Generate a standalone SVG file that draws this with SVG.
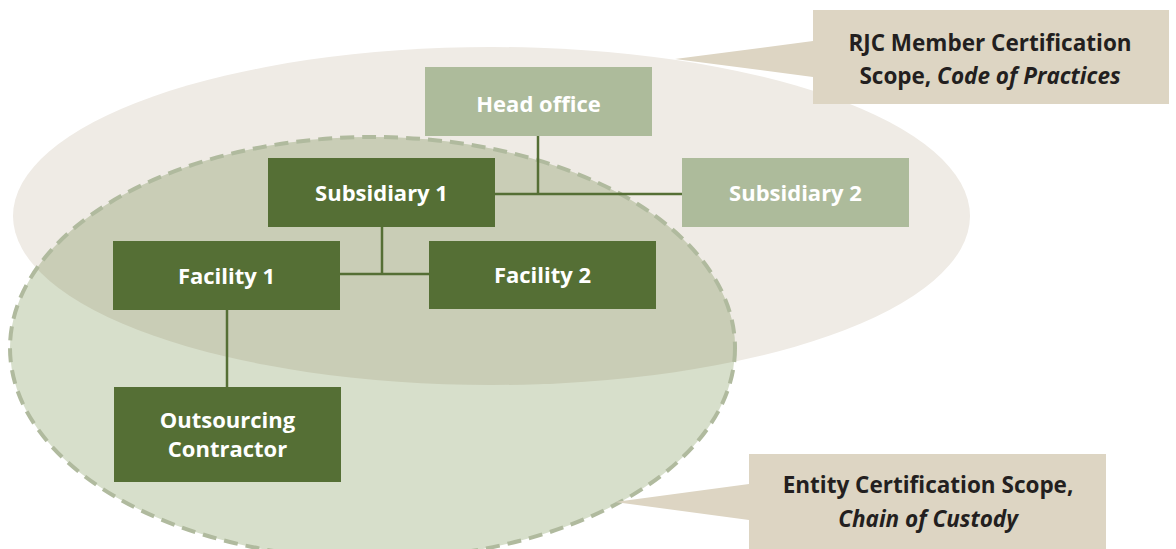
<svg xmlns="http://www.w3.org/2000/svg" width="1176" height="549" viewBox="0 0 1176 549">
  <style>
    .node-dark { fill: #556f35; }
    .node-light { fill: #adbb9b; }
    .node-text { font-family: "Open Sans", "Liberation Sans", sans-serif; font-weight: 700; font-size: 22px; fill: #ffffff; text-anchor: middle; }
    .callout-box { fill: #ddd5c3; }
    .callout-text { font-family: "Open Sans", "Liberation Sans", sans-serif; font-weight: 700; font-size: 22.5px; fill: #231f20; text-anchor: middle; }
    .callout-text .it { font-style: italic; }
    .link { stroke: #556f35; stroke-width: 2.5; fill: none; }
  </style>
  <defs>
    <clipPath id="memberScopeClip">
      <ellipse cx="491.5" cy="216" rx="478.5" ry="169"/>
    </clipPath>
  </defs>

  <!-- scope areas -->
  <g id="scopes">
    <ellipse id="member-scope" cx="491.5" cy="216" rx="478.5" ry="169" fill="#efebe5"/>
    <ellipse id="entity-scope" cx="372.5" cy="348" rx="362.5" ry="211" fill="#d7dfcb"/>
    <ellipse cx="372.5" cy="348" rx="362.5" ry="211" fill="#c9cdb6" clip-path="url(#memberScopeClip)"/>
    <ellipse cx="372.5" cy="348" rx="362.5" ry="211" fill="none" stroke="#b0ba9e" stroke-width="4" stroke-dasharray="14 8"/>
  </g>

  <!-- callouts -->
  <g id="callout-member">
    <polygon class="callout-box" points="813,41 675,59 813,77"/>
    <rect class="callout-box" x="813" y="10" width="356" height="94"/>
    <text class="callout-text" x="990" y="51">RJC Member Certification</text>
    <text class="callout-text" x="990" y="84">Scope, <tspan class="it">Code of Practices</tspan></text>
  </g>
  <g id="callout-entity">
    <polygon class="callout-box" points="749,484 615,502 749,520"/>
    <rect class="callout-box" x="749" y="454" width="357" height="95"/>
    <text class="callout-text" x="928" y="493">Entity Certification Scope,</text>
    <text class="callout-text it" x="928" y="527" font-style="italic">Chain of Custody</text>
  </g>

  <!-- connectors -->
  <g id="connectors">
    <path class="link" d="M538,136 V194"/>
    <path class="link" d="M495,194 H682"/>
    <path class="link" d="M382,227 V274"/>
    <path class="link" d="M340,274 H429"/>
    <path class="link" d="M227,310 V387"/>
  </g>

  <!-- organisation nodes -->
  <g id="head-office">
    <rect class="node-light" x="425" y="67" width="227" height="69"/>
    <text class="node-text" x="538.5" y="112">Head office</text>
  </g>
  <g id="subsidiary-1">
    <rect class="node-dark" x="268" y="158" width="227" height="69"/>
    <text class="node-text" x="381.5" y="201">Subsidiary 1</text>
  </g>
  <g id="subsidiary-2">
    <rect class="node-light" x="682" y="158" width="227" height="69"/>
    <text class="node-text" x="795.5" y="201">Subsidiary 2</text>
  </g>
  <g id="facility-1">
    <rect class="node-dark" x="113" y="241" width="227" height="69"/>
    <text class="node-text" x="226.5" y="284">Facility 1</text>
  </g>
  <g id="facility-2">
    <rect class="node-dark" x="429" y="241" width="227" height="68"/>
    <text class="node-text" x="542.5" y="283">Facility 2</text>
  </g>
  <g id="outsourcing-contractor">
    <rect class="node-dark" x="114" y="387" width="227" height="95"/>
    <text class="node-text" x="227.5" y="428">Outsourcing</text>
    <text class="node-text" x="227.5" y="457">Contractor</text>
  </g>
</svg>
